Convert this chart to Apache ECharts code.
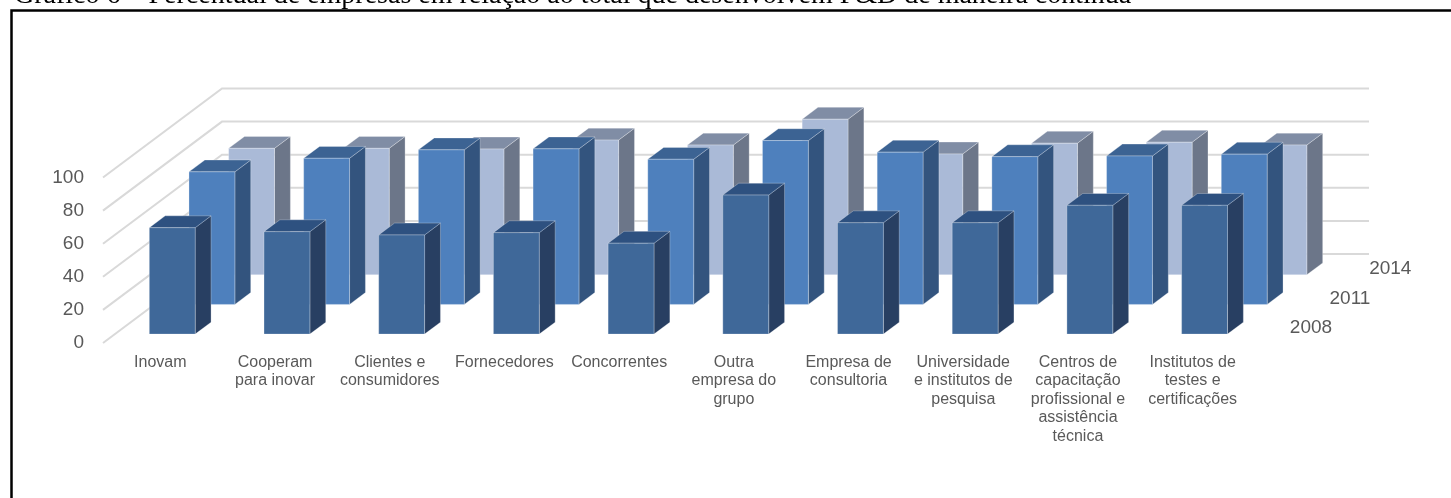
<!DOCTYPE html>
<html>
<head>
<meta charset="utf-8">
<script src="https://cdn.jsdelivr.net/npm/echarts@6/dist/echarts.min.js"></script>
<style>
  html, body { margin: 0; padding: 0; background: #fff; }
  #chart { width: 1451px; height: 498px; }
</style>
</head>
<body>
<div id="chart"></div>
<script>
// Percentual de empresas que desenvolvem P&D de maneira contínua
const categories = [
  'Inovam',
  'Cooperam\npara inovar',
  'Clientes e\nconsumidores',
  'Fornecedores',
  'Concorrentes',
  'Outra\nempresa do\ngrupo',
  'Empresa de\nconsultoria',
  'Universidade\ne institutos de\npesquisa',
  'Centros de\ncapacitação\nprofissional e\nassistência\ntécnica',
  'Institutos de\ntestes e\ncertificações'
];
const years = ['2008', '2011', '2014'];
const values2008 = [64.3, 61.9, 59.9, 61.3, 54.9, 84.0, 67.3, 67.3, 77.8, 77.8];
const values2011 = [80.1, 88.3, 93.4, 94.0, 87.7, 99.0, 92.0, 89.3, 89.7, 90.8];
const values2014 = [76.4, 76.4, 76.0, 81.4, 78.4, 94.0, 73.0, 79.5, 80.1, 78.4];
const yTicks = [0, 20, 40, 60, 80, 100];

const seriesValues = [values2008, values2011, values2014];

// Oblique projection of the depth axis (pixels per full floor depth)
const DEPTH_X = 119;
const DEPTH_Y = 89;
const ROW_DEPTH = 1 / years.length;
const BAR_DEPTH = 0.4;   // share of a row taken by a bar
const BAR_WIDTH = 0.4;   // share of a category band taken by a bar

const palette = [
  { front: '#3F6899', side: '#283F62', top: '#2E5180' },
  { front: '#4E80BD', side: '#33547E', top: '#3C6393' },
  { front: '#AABAD7', side: '#6C7689', top: '#808DA5' }
];

const LABEL_COLOR = '#595959';
const SANS = '"Liberation Sans", Arial, sans-serif';

function shift(pt, z) {
  return [pt[0] + DEPTH_X * z, pt[1] - DEPTH_Y * z];
}

// Side wall + back wall gridlines for each value tick
function renderWalls(params, api) {
  const cs = params.coordSys;
  const y = api.coord([0, api.value(1)])[1];
  const front = [cs.x, y];
  const backLeft = shift(front, 1);
  const backRight = shift([cs.x + cs.width, y], 1);
  return {
    type: 'polyline',
    shape: { points: [front, backLeft, backRight] },
    style: { stroke: '#D9D9D9', lineWidth: 2, fill: null }
  };
}

// One row of 3D columns
function barRenderer(row) {
  const zc = (row + 0.5) * ROW_DEPTH;
  const z0 = zc - ROW_DEPTH * BAR_DEPTH / 2;
  const z1 = zc + ROW_DEPTH * BAR_DEPTH / 2;
  const col = palette[row];
  return function (params, api) {
    const c = api.value(0);
    const v = api.value(1);
    const top = api.coord([c, v]);
    const base = api.coord([c, 0]);
    const hw = api.size([1, 0])[0] * BAR_WIDTH / 2;
    const xl = top[0] - hw, xr = top[0] + hw;
    const front = [
      shift([xl, top[1]], z0), shift([xr, top[1]], z0),
      shift([xr, base[1]], z0), shift([xl, base[1]], z0)
    ];
    const side = [
      shift([xr, top[1]], z0), shift([xr, top[1]], z1),
      shift([xr, base[1]], z1), shift([xr, base[1]], z0)
    ];
    const lid = [
      shift([xl, top[1]], z0), shift([xr, top[1]], z0),
      shift([xr, top[1]], z1), shift([xl, top[1]], z1)
    ];
    const edge = { stroke: 'rgba(255,255,255,0.35)', lineWidth: 0.8, lineJoin: 'round' };
    return {
      type: 'group',
      children: [
        { type: 'polygon', shape: { points: side }, style: Object.assign({ fill: col.side }, edge) },
        { type: 'polygon', shape: { points: lid }, style: Object.assign({ fill: col.top }, edge) },
        { type: 'polygon', shape: { points: front }, style: Object.assign({ fill: col.front }, edge) }
      ]
    };
  };
}

// Depth-axis labels (years) along the right edge of the floor
function renderDepthLabels(params, api) {
  const cs = params.coordSys;
  const row = api.value(0);
  const zc = (row + 0.5) * ROW_DEPTH;
  const p = shift([cs.x + cs.width, cs.y + cs.height], zc);
  return {
    type: 'text',
    x: p[0] + 20,
    y: p[1],
    style: {
      text: years[params.dataIndex],
      fill: LABEL_COLOR,
      fontSize: 19,
      fontFamily: SANS,
      align: 'left',
      verticalAlign: 'middle'
    }
  };
}

const barSeries = [];
for (let r = years.length - 1; r >= 0; r--) {
  barSeries.push({
    type: 'custom',
    name: years[r],
    renderItem: barRenderer(r),
    clip: false,
    encode: { x: 0, y: 1 },
    data: seriesValues[r].map((v, i) => [i, v])
  });
}

const chart = echarts.init(document.getElementById('chart'), null, { renderer: 'canvas' });
chart.setOption({
  animation: false,
  backgroundColor: '#fff',
  grid: { left: 103, right: 201, top: 177.5, bottom: 155, containLabel: false },
  xAxis: {
    type: 'category',
    data: categories,
    axisLine: { show: false },
    axisTick: { show: false },
    splitLine: { show: false },
    axisLabel: {
      interval: 0,
      margin: 10,
      color: LABEL_COLOR,
      fontSize: 16,
      lineHeight: 18.5,
      fontFamily: SANS
    }
  },
  yAxis: {
    type: 'value',
    min: 0,
    max: 100,
    interval: 20,
    axisLine: { show: false },
    axisTick: { show: false },
    splitLine: { show: false },
    axisLabel: {
      margin: 19,
      color: LABEL_COLOR,
      fontSize: 19,
      fontFamily: SANS
    }
  },
  graphic: [
    {
      type: 'text',
      x: 14,
      y: -4,
      silent: true,
      style: {
        text: 'Gráfico 6 – Percentual de empresas em relação ao total que desenvolvem P&D de maneira contínua',
        fill: '#000',
        fontSize: 28,
        fontFamily: '"Liberation Serif", "Times New Roman", serif',
        verticalAlign: 'middle'
      }
    },
    {
      type: 'polyline',
      silent: true,
      shape: { points: [[11.5, 500], [11.5, 10.5], [1453, 10.5]] },
      style: { stroke: '#000', lineWidth: 2.5, fill: null }
    }
  ],
  series: [
    {
      type: 'custom',
      name: 'walls',
      renderItem: renderWalls,
      clip: false,
      silent: true,
      encode: { x: 0, y: 1 },
      data: yTicks.map(v => [0, v])
    },
    ...barSeries,
    {
      type: 'custom',
      name: 'years',
      renderItem: renderDepthLabels,
      clip: false,
      silent: true,
      encode: { x: 0, y: 1 },
      data: years.map((y, r) => [r, 0])
    }
  ]
});
</script>
</body>
</html>
